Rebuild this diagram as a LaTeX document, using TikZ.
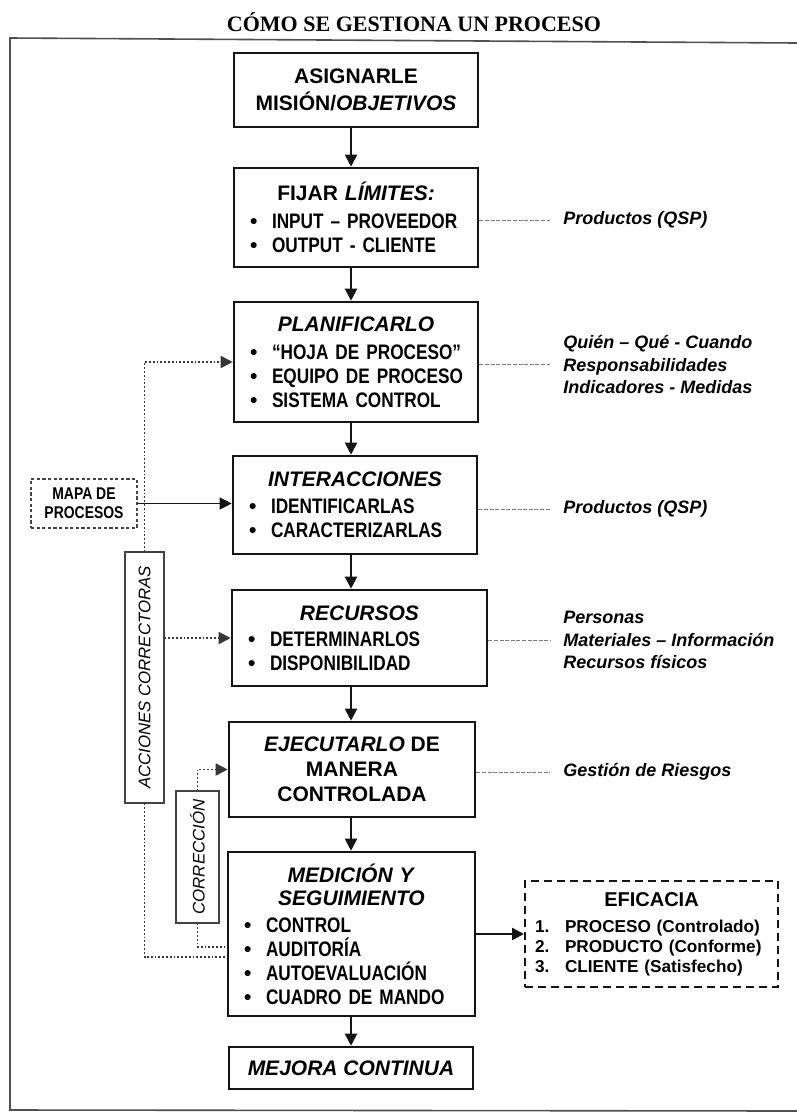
\documentclass[tikz,border=0pt]{standalone}
\usepackage{fontspec}
\setmainfont{Liberation Sans}
\newfontfamily\estrecha{Liberation Sans}[FakeStretch=0.82]
\newfontfamily\serifa{Liberation Serif}
\usepackage{graphicx}
\usetikzlibrary{arrows.meta,calc}
\definecolor{tinta}{RGB}{20,20,20}
\definecolor{guia}{RGB}{125,125,125}
\newcommand{\punto}[1]{\mbox{\makebox[11pt][l]{\textbullet}{\estrecha #1}}}

\begin{document}
\begin{tikzpicture}[x=0.5pt,y=-0.5pt,
    caja/.style={draw=tinta,line width=1.3pt,inner xsep=8pt,inner ysep=0pt,
      align=left,font=\bfseries\fontsize{10.5}{12}\selectfont},
    punta/.style={-{Triangle[length=6pt,width=6pt]}},
    flecha/.style={punta,line width=1pt,tinta},
    nota/.style={anchor=west,inner xsep=6.5pt,align=left,
      font=\bfseries\itshape\fontsize{9}{11.3}\selectfont},
    guion/.style={guia,line width=0.5pt,dash pattern=on 2pt off 0.8pt},
    lateral/.style={draw=tinta!80,line width=0.6pt,inner sep=0pt,
      font=\itshape\fontsize{8.4}{10}\selectfont},
    retorno/.style={tinta!85,line width=0.9pt,densely dotted}]
  \useasboundingbox (0,0) rectangle (797,1120);

  % marco y titulo
  \node[font=\serifa\bfseries\fontsize{11}{13}\selectfont] (titulo) at (414,22)
    {CÓMO SE GESTIONA UN PROCESO};
  \draw[tinta!75,line width=0.8pt] (797,43) -- (10,38) -- (10,1110) -- (797,1111);

  % columna central
  \node[caja,align=center,minimum width=122pt,minimum height=37pt] (b1) at (356,90)
    {ASIGNARLE\\[1.5pt]MISIÓN/\textit{OBJETIVOS}};
  \node[caja,text width=106pt,minimum height=49.5pt] (b2) at (356,217.5)
    {\makebox[\hsize]{FIJAR \textit{LÍMITES:}}\\[2pt]
     \punto{INPUT – PROVEEDOR}\\\punto{OUTPUT - CLIENTE}};
  \node[caja,text width=106pt,minimum height=60pt] (b3) at (356,362)
    {\makebox[\hsize]{\textit{PLANIFICARLO}}\\[2pt]
     \punto{“HOJA DE PROCESO”}\\\punto{EQUIPO DE PROCESO}\\\punto{SISTEMA CONTROL}};
  \node[caja,text width=106pt,minimum height=49pt] (b4) at (355,505)
    {\makebox[\hsize]{\textit{INTERACCIONES}}\\[1.5pt]
     \punto{IDENTIFICARLAS}\\\punto{CARACTERIZARLAS}};
  \node[caja,text width=111.5pt,minimum height=48pt] (b5) at (359.5,638)
    {\makebox[\hsize]{\textit{RECURSOS}}\\[1pt]
     \punto{DETERMINARLOS}\\\punto{DISPONIBILIDAD}};
  \node[caja,align=center,minimum width=123pt,minimum height=47.5pt] (b6) at (352,769.5)
    {\textit{EJECUTARLO} DE\\[0.5pt]MANERA\\[0.5pt]CONTROLADA};
  \node[caja,text width=107.5pt,minimum height=82pt] (b7) at (351.5,934)
    {\makebox[\hsize]{\textit{MEDICIÓN Y}}\\[-0.5pt]\makebox[\hsize]{\textit{SEGUIMIENTO}}\\[1.5pt]
     \punto{CONTROL}\\\punto{AUDITORÍA}\\\punto{AUTOEVALUACIÓN}\\\punto{CUADRO DE MANDO}};
  \node[caja,align=center,minimum width=122pt,minimum height=21pt] (b8) at (351,1068)
    {\textit{MEJORA CONTINUA}};

  \coordinate (eje) at (351,0);
  \foreach \a/\b in {b1/b2,b2/b3,b3/b4,b4/b5,b5/b6,b6/b7,b7/b8}
    \draw[flecha] (\a.south -| eje) -- (\b.north -| eje);

  % notas de la derecha
  \node[nota] (n2) at (550,220) {Productos (QSP)};
  \node[nota] (n3) at (550,364.5) {Quién – Qué - Cuando\\Responsabilidades\\Indicadores - Medidas};
  \node[nota] (n4) at (550,509) {Productos (QSP)};
  \node[nota] (n5) at (550,640) {Personas\\Materiales – Información\\Recursos físicos};
  \node[nota] (n6) at (550,772) {Gestión de Riesgos};
  \foreach \b/\n in {b2/n2,b3/n3,b4/n4,b5/n5,b6/n6}
    \draw[guion] (\n.west -| \b.east) -- (\n.west);

  % eficacia
  \node[draw=tinta,line width=1pt,dash pattern=on 4pt off 2.5pt,inner xsep=5pt,inner ysep=0pt,
      text width=116.5pt,minimum height=53pt,align=left,
      font=\bfseries\fontsize{8.6}{10}\selectfont] (efi) at (651.5,934)
    {\makebox[\hsize]{\fontsize{10}{12}\selectfont EFICACIA}\\[3pt]
     \makebox[15pt][l]{1.}PROCESO (Controlado)\\
     \makebox[15pt][l]{2.}PRODUCTO (Conforme)\\
     \makebox[15pt][l]{3.}CLIENTE (Satisfecho)};
  \draw[flecha,line width=1.2pt] (b7.east) -- (b7.east -| efi.west);

  % lado izquierdo
  \node[draw=tinta!80,line width=0.6pt,dash pattern=on 1.6pt off 1.2pt,inner sep=0pt,
      minimum width=53pt,minimum height=24.5pt,align=center,
      font=\estrecha\bfseries\fontsize{8.5}{9.5}\selectfont] (mapa) at (84,503.5)
    {MAPA DE\\PROCESOS};
  \draw[flecha,line width=0.6pt] (mapa.east) -- (mapa.east -| b4.west);

  \node[lateral,minimum width=19.5pt,minimum height=125.5pt] (acc) at (144.5,677.5)
    {\rotatebox{90}{ACCIONES CORRECTORAS}};
  \node[lateral,minimum width=21.5pt,minimum height=66pt] (corr) at (197.5,857)
    {\rotatebox{90}{CORRECCIÓN}};

  \draw[retorno,punta] (acc.north) |- (b3.west);
  \draw[retorno,punta] (b5.west -| acc.east) -- (b5.west);
  \draw[retorno] (acc.south) |- ([yshift=-11.5pt]b7.west);
  \draw[retorno,punta] (corr.north) |- (b6.west);
  \draw[retorno] (corr.south) |- ([yshift=-6.5pt]b7.west);
\end{tikzpicture}
\end{document}
